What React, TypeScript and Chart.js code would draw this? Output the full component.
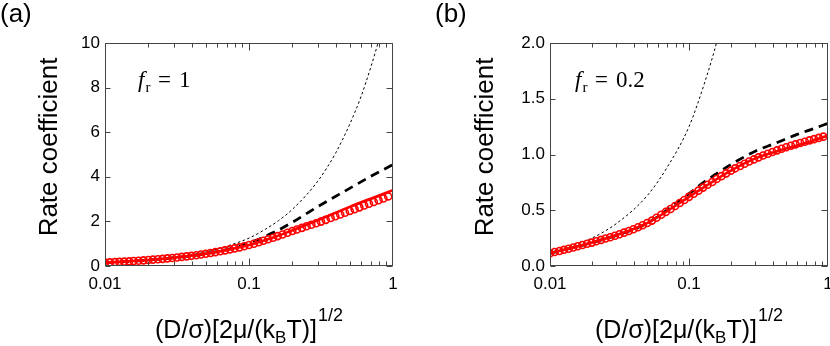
import React, { useEffect, useRef } from 'react';
import Chart from 'chart.js/auto';

const SANS = '"Liberation Sans", Arial, Helvetica, sans-serif';
const SERIF = '"Liberation Serif", "Times New Roman", Times, serif';

// shared x grid of the open circles
const xGrid = [
  0.0100, 0.0108, 0.0117, 0.0126, 0.0136, 0.0147, 0.0158, 0.0171, 0.0185, 0.0200,
  0.0215, 0.0233, 0.0251, 0.0271, 0.0293, 0.0316, 0.0341, 0.0369, 0.0398, 0.0430,
  0.0464, 0.0501, 0.0541, 0.0584, 0.0631, 0.0681, 0.0736, 0.0794, 0.0858, 0.0926,
  0.100, 0.108, 0.117, 0.126, 0.136, 0.147, 0.158, 0.171, 0.185, 0.200,
  0.215, 0.233, 0.251, 0.271, 0.293, 0.316, 0.341, 0.369, 0.398, 0.430,
  0.464, 0.501, 0.541, 0.584, 0.631, 0.681, 0.736, 0.794, 0.858, 0.926,
];

// panel (a), f_r = 1
const circlesA = [
  0.150, 0.161, 0.172, 0.184, 0.196, 0.209, 0.222, 0.236, 0.251, 0.267,
  0.284, 0.302, 0.321, 0.341, 0.362, 0.384, 0.407, 0.431, 0.456, 0.482,
  0.515, 0.548, 0.583, 0.620, 0.659, 0.700, 0.744, 0.790, 0.835, 0.885,
  0.94, 1.0, 1.065, 1.13, 1.2, 1.27, 1.34, 1.41, 1.49, 1.57,
  1.64, 1.71, 1.78, 1.85, 1.92, 1.99, 2.07, 2.15, 2.23, 2.31,
  2.39, 2.47, 2.55, 2.63, 2.71, 2.79, 2.87, 2.95, 3.03, 3.12,
];
const solidAX = [0.01, 0.02, 0.05, 0.1, 0.15, 0.2, 0.3, 0.5, 0.7, 1.0];
const solidAY = [0.15, 0.267, 0.548, 0.94, 1.3, 1.6, 2.05, 2.65, 3.02, 3.4];
const dashAX = [0.01, 0.02, 0.05, 0.08, 0.1, 0.15, 0.2, 0.3, 0.5, 0.7, 1.0];
const dashAY = [0.15, 0.267, 0.55, 0.83, 1.03, 1.52, 1.96, 2.66, 3.48, 4.02, 4.55];

// panel (b), f_r = 0.2
const circlesB = [
  0.115, 0.125, 0.135, 0.145, 0.155, 0.166, 0.177, 0.188, 0.199, 0.21,
  0.222, 0.234, 0.246, 0.258, 0.271, 0.285, 0.299, 0.314, 0.330, 0.347,
  0.365, 0.385, 0.407, 0.433, 0.459, 0.485, 0.511, 0.538, 0.565, 0.592,
  0.62, 0.648, 0.676, 0.703, 0.729, 0.754, 0.78, 0.806, 0.831, 0.855,
  0.876, 0.897, 0.917, 0.937, 0.956, 0.974, 0.991, 1.007, 1.022, 1.037,
  1.051, 1.065, 1.078, 1.091, 1.103, 1.115, 1.127, 1.138, 1.149, 1.16,
];
const solidBX = [0.01, 0.02, 0.05, 0.1, 0.2, 0.3, 0.5, 0.7, 1.0];
const solidBY = [0.115, 0.21, 0.385, 0.62, 0.855, 0.965, 1.053, 1.105, 1.17];
const dashBX = [0.01, 0.02, 0.05, 0.1, 0.126, 0.15, 0.2, 0.3, 0.416, 0.6, 0.8, 1.0];
const dashBY = [0.115, 0.21, 0.385, 0.65, 0.745, 0.81, 0.91, 1.03, 1.1, 1.18, 1.235, 1.28];

// thin dotted curve (same in both panels)
const dottedX = [0.01, 0.015, 0.02, 0.03, 0.05, 0.07, 0.1, 0.13, 0.16, 0.2, 0.3, 0.4, 0.5, 0.6, 0.7, 0.8];
const dottedY = [0.13, 0.19, 0.25, 0.38, 0.63, 0.89, 1.25, 1.65, 2.03, 2.54, 3.8, 5.07, 6.35, 7.6, 8.9, 10.15];

const xTickValues = [0.01, 0.1, 1];
const xTickLabels = ['0.01', '0.1', '1'];
const yTicksA = [0, 2, 4, 6, 8, 10];
const yTicksB = [0, 0.5, 1.0, 1.5, 2.0];

const pairs = (xs: number[], ys: number[]) => xs.map((x, i) => ({ x, y: ys[i] }));

type Panel = {
  key: string;
  offset: number;
  width: number;
  yWidth: number;
  padRight: number;
  yMax: number;
  yStep: number;
  yDigits: number;
  label: string;
  labelX: number;
  yTitleX: number;
  frX: number;
  frValue: string;
  circles: number[];
  solidX: number[];
  solidY: number[];
  dashX: number[];
  dashY: number[];
  yTicks: number[];
};

const panels: Panel[] = [
  {
    key: 'a', offset: 0, width: 415, yWidth: 105, padRight: 22, yMax: 10, yStep: 2, yDigits: 0,
    label: '(a)', labelX: 0, yTitleX: 57, frX: 138, frValue: '1',
    circles: circlesA, solidX: solidAX, solidY: solidAY, dashX: dashAX, dashY: dashAY, yTicks: yTicksA,
  },
  {
    key: 'b', offset: 415, width: 430, yWidth: 135, padRight: 17, yMax: 2, yStep: 0.5, yDigits: 1,
    label: '(b)', labelX: 20, yTitleX: 78, frX: 160, frValue: '0.2',
    circles: circlesB, solidX: solidBX, solidY: solidBY, dashX: dashBX, dashY: dashBY, yTicks: yTicksB,
  },
];

function decoPlugin(p: Panel) {
  return {
    id: 'deco_' + p.key,
    afterDraw(chart: any) {
      const ctx = chart.ctx as CanvasRenderingContext2D;
      const { left, right, top, bottom } = chart.chartArea;
      const xs = chart.scales.x;
      const ys = chart.scales.y;
      ctx.save();
      // frame
      ctx.strokeStyle = '#444';
      ctx.lineWidth = 1;
      const L = Math.round(left) + 0.5;
      const R = Math.round(right) - 0.5;
      const T = Math.round(top) + 0.5;
      const B = Math.round(bottom) - 0.5;
      ctx.strokeRect(L, T, R - L, B - T);
      ctx.beginPath();
      // y ticks, inward on both sides
      for (const v of p.yTicks) {
        const py = Math.round(ys.getPixelForValue(v)) + 0.5;
        ctx.moveTo(L, py); ctx.lineTo(L + 5, py);
        ctx.moveTo(R, py); ctx.lineTo(R - 6, py);
      }
      // x ticks (log), inward on bottom and top
      for (const e of [-2, -1]) {
        for (let k = 1; k <= 9; k++) {
          const v = k * Math.pow(10, e);
          const px = Math.round(xs.getPixelForValue(v)) + 0.5;
          const len = k === 1 ? 7 : 4;
          ctx.moveTo(px, B); ctx.lineTo(px, B - len);
          ctx.moveTo(px, T); ctx.lineTo(px, T + len);
        }
      }
      ctx.stroke();

      ctx.fillStyle = '#000';
      ctx.textBaseline = 'alphabetic';
      ctx.textAlign = 'left';
      // panel label
      ctx.font = `26px ${SANS}`;
      ctx.fillText(p.label, p.labelX, 22);

      // y title
      ctx.save();
      ctx.translate(p.yTitleX, 147);
      ctx.rotate(-Math.PI / 2);
      ctx.textAlign = 'center';
      ctx.font = `26px ${SANS}`;
      ctx.fillText('Rate coefficient', 0, 0);
      ctx.restore();

      // x title with subscript and superscript
      const fMain = `25px ${SANS}`;
      const fSub = `17px ${SANS}`;
      const fSup = `18px ${SANS}`;
      const t1 = '(D/σ)[2μ/(k';
      const t2 = 'B';
      const t3 = 'T)]';
      const t4 = '1/2';
      ctx.font = fMain; const w1 = ctx.measureText(t1).width; const w3 = ctx.measureText(t3).width;
      ctx.font = fSub; const w2 = ctx.measureText(t2).width;
      ctx.font = fSup; const w4 = ctx.measureText(t4).width;
      const total = w1 + w2 + w3 + 1 + w4;
      let x0 = (left + right) / 2 - total / 2;
      const base = 338;
      ctx.font = fMain; ctx.fillText(t1, x0, base); x0 += w1;
      ctx.font = fSub; ctx.fillText(t2, x0, base + 5); x0 += w2;
      ctx.font = fMain; ctx.fillText(t3, x0, base); x0 += w3 + 1;
      ctx.font = fSup; ctx.fillText(t4, x0, 321);

      // f_r annotation
      const fx = p.frX;
      ctx.font = `italic 23px ${SERIF}`;
      ctx.fillText('f', fx, 87);
      ctx.font = `15px ${SERIF}`;
      ctx.fillText('r', fx + 7.5, 92);
      ctx.font = `23px ${SERIF}`;
      ctx.fillText('=', fx + 20, 87);
      ctx.fillText(p.frValue, fx + 41, 87);
      ctx.restore();
    },
  };
}

function PanelChart({ p }: { p: Panel }) {
  const ref = useRef<HTMLCanvasElement>(null);
  useEffect(() => {
    const canvas = ref.current;
    if (!canvas) return;
    const tickFont = { family: SANS, size: 17 };
    const chart = new Chart(canvas, {
      type: 'scatter',
      data: {
        datasets: [
          {
            data: pairs(xGrid, p.circles),
            showLine: false,
            pointStyle: 'circle',
            pointRadius: 3.5,
            pointBorderWidth: 1.6,
            pointBorderColor: '#ff0000',
            pointBackgroundColor: 'rgba(255,255,255,0)',
            clip: 0,
          },
          {
            data: pairs(p.solidX, p.solidY),
            showLine: true,
            borderColor: '#ff0000',
            borderWidth: 2.6,
            pointRadius: 0,
            cubicInterpolationMode: 'monotone',
            clip: 0,
          },
          {
            data: pairs(p.dashX, p.dashY),
            showLine: true,
            borderColor: '#000',
            borderWidth: 2.8,
            borderDash: [9, 6],
            pointRadius: 0,
            cubicInterpolationMode: 'monotone',
            clip: 0,
          },
          {
            data: pairs(dottedX, dottedY),
            showLine: true,
            borderColor: '#000',
            borderWidth: 1,
            borderDash: [2.5, 2.5],
            pointRadius: 0,
            cubicInterpolationMode: 'monotone',
            clip: 0,
          },
        ] as any,
      },
      options: {
        animation: false,
        responsive: false,
        devicePixelRatio: 1,
        events: [],
        layout: { padding: { left: 0, top: 43, right: p.padRight, bottom: 0 } },
        plugins: { legend: { display: false }, tooltip: { enabled: false } },
        scales: {
          x: {
            type: 'logarithmic',
            min: 0.01,
            max: 1,
            grid: { display: false, drawTicks: false },
            border: { display: false },
            ticks: {
              font: tickFont,
              color: '#000',
              padding: 8,
              maxRotation: 0,
              autoSkip: false,
              callback: (v: any) => {
                const i = xTickValues.findIndex((t) => Math.abs(t - Number(v)) < 1e-9);
                return i >= 0 ? xTickLabels[i] : '';
              },
            },
            afterBuildTicks: (s: any) => {
              s.ticks = xTickValues.map((value) => ({ value }));
            },
            afterFit: (s: any) => {
              s.height = 80;
            },
          },
          y: {
            type: 'linear',
            min: 0,
            max: p.yMax,
            grid: { display: false, drawTicks: false },
            border: { display: false },
            ticks: {
              stepSize: p.yStep,
              font: tickFont,
              color: '#000',
              padding: 5,
              callback: (v: any) => Number(v).toFixed(p.yDigits),
            },
            afterFit: (s: any) => {
              s.width = p.yWidth;
            },
          },
        },
      } as any,
      plugins: [decoPlugin(p)],
    });
    return () => chart.destroy();
  }, [p]);
  return (
    <canvas
      ref={ref}
      width={p.width}
      height={346}
      style={{ position: 'absolute', left: p.offset, top: 0, width: p.width, height: 346 }}
    />
  );
}

export default function App() {
  return (
    <div
      style={{
        position: 'absolute',
        left: 0,
        top: 0,
        width: 830,
        height: 346,
        overflow: 'hidden',
        background: '#fff',
      }}
    >
      {panels.map((p) => (
        <PanelChart key={p.key} p={p} />
      ))}
    </div>
  );
}
